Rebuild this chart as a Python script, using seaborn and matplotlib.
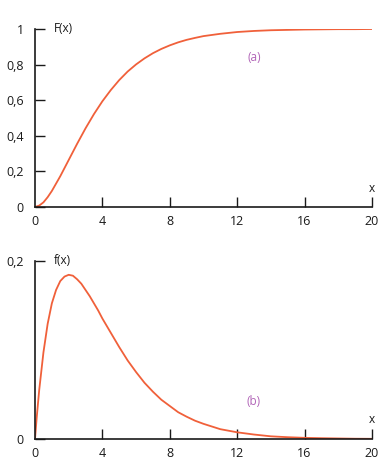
import pandas as pd
import matplotlib
matplotlib.use('Agg')
import matplotlib.pyplot as plt
import seaborn as sns

sns.set_theme(style='white')
plt.rcParams['font.family'] = ['Open Sans', 'DejaVu Sans']

# values
x_cdf = [0, 0.25, 0.5, 0.75, 1, 1.5, 2, 2.5, 3, 3.5, 4, 4.5, 5, 5.5, 6, 6.5, 7, 7.5, 8,
         8.5, 9, 9.5, 10, 11, 12, 13, 14, 15, 16, 17, 18, 19, 20]
cdf = [0, 0.008, 0.026, 0.055, 0.09, 0.173, 0.264, 0.355, 0.442, 0.522, 0.594, 0.657,
       0.713, 0.761, 0.801, 0.835, 0.864, 0.888, 0.908, 0.925, 0.939, 0.95, 0.96, 0.973,
       0.983, 0.989, 0.993, 0.995, 0.997, 0.998, 0.999, 0.999, 1.0]

x_pdf = [0, 0.1, 0.25, 0.5, 0.75, 1, 1.25, 1.5, 1.75, 2, 2.25, 2.5, 2.75, 3, 3.25, 3.5,
         3.75, 4, 4.25, 4.5, 5, 5.5, 6, 6.5, 7, 7.5, 8, 8.5, 9, 9.5, 10, 11, 12, 13, 14,
         15, 16, 17, 18, 19, 20]
pdf = [0, 0.024, 0.055, 0.097, 0.129, 0.152, 0.167, 0.177, 0.182, 0.184, 0.183, 0.179,
       0.174, 0.167, 0.16, 0.152, 0.144, 0.135, 0.127, 0.119, 0.103, 0.088, 0.075, 0.063,
       0.053, 0.044, 0.037, 0.03, 0.025, 0.0205, 0.017, 0.011, 0.0075, 0.005, 0.003,
       0.002, 0.0013, 0.0009, 0.0006, 0.0003, 0.0002]

x_ticks = [0, 4, 8, 12, 16, 20]
cdf_ticks = [0, 0.2, 0.4, 0.6, 0.8, 1]
cdf_tick_labels = ['0', '0,2', '0,4', '0,6', '0,8', '1']
pdf_ticks = [0, 0.2]
pdf_tick_labels = ['0', '0,2']

line_color = '#f0603a'
note_color = '#b266b8'
ink = '#1a1a1a'

fig = plt.figure(figsize=(3.89, 4.73), dpi=100)
ax1 = fig.add_axes([0.09, 0.5624, 0.866, 0.3763])
ax2 = fig.add_axes([0.09, 0.0719, 0.866, 0.3773])

df_cdf = pd.DataFrame({'x': x_cdf, 'F': cdf})
df_pdf = pd.DataFrame({'x': x_pdf, 'f': pdf})
sns.lineplot(data=df_cdf, x='x', y='F', ax=ax1, color=line_color, linewidth=1.3)
sns.lineplot(data=df_pdf, x='x', y='f', ax=ax2, color=line_color, linewidth=1.3)

for ax, yt, ytl, ymax in [(ax1, cdf_ticks, cdf_tick_labels, 1),
                          (ax2, pdf_ticks, pdf_tick_labels, 0.2)]:
    ax.set_xlim(0, 20)
    ax.set_ylim(0, ymax)
    ax.set_xticks(x_ticks)
    ax.set_xticklabels([str(t) for t in x_ticks])
    ax.set_yticks(yt)
    ax.set_yticklabels(ytl)
    ax.set_xlabel('')
    ax.set_ylabel('')
    for s in ['top', 'right']:
        ax.spines[s].set_visible(False)
    for s in ['left', 'bottom']:
        ax.spines[s].set_color(ink)
        ax.spines[s].set_linewidth(1.2)
    ax.tick_params(axis='both', direction='in', length=7, width=1.0, colors=ink,
                   labelsize=9, pad=8, left=True, bottom=True)
    ax.tick_params(axis='x', pad=6)
    ax.set_facecolor('white')
    ax.text(1.0, 0.07, 'x', transform=ax.transAxes,
            ha='center', va='bottom', fontsize=8.5, color=ink)
    ax.xaxis.get_major_ticks()[0].tick1line.set_visible(False)

ax1.text(0.055, 1.0, 'F(x)', transform=ax1.transAxes, ha='left', va='center',
         fontsize=8.5, color=ink)
ax2.text(0.055, 1.0, 'f(x)', transform=ax2.transAxes, ha='left', va='center',
         fontsize=8.5, color=ink)
ax1.text(0.65, 0.84, '(a)', transform=ax1.transAxes, ha='center', va='center',
         fontsize=8.5, color=note_color)
ax2.text(0.65, 0.21, '(b)', transform=ax2.transAxes, ha='center', va='center',
         fontsize=8.5, color=note_color)

fig.savefig('out.png', dpi=100, facecolor='white')
